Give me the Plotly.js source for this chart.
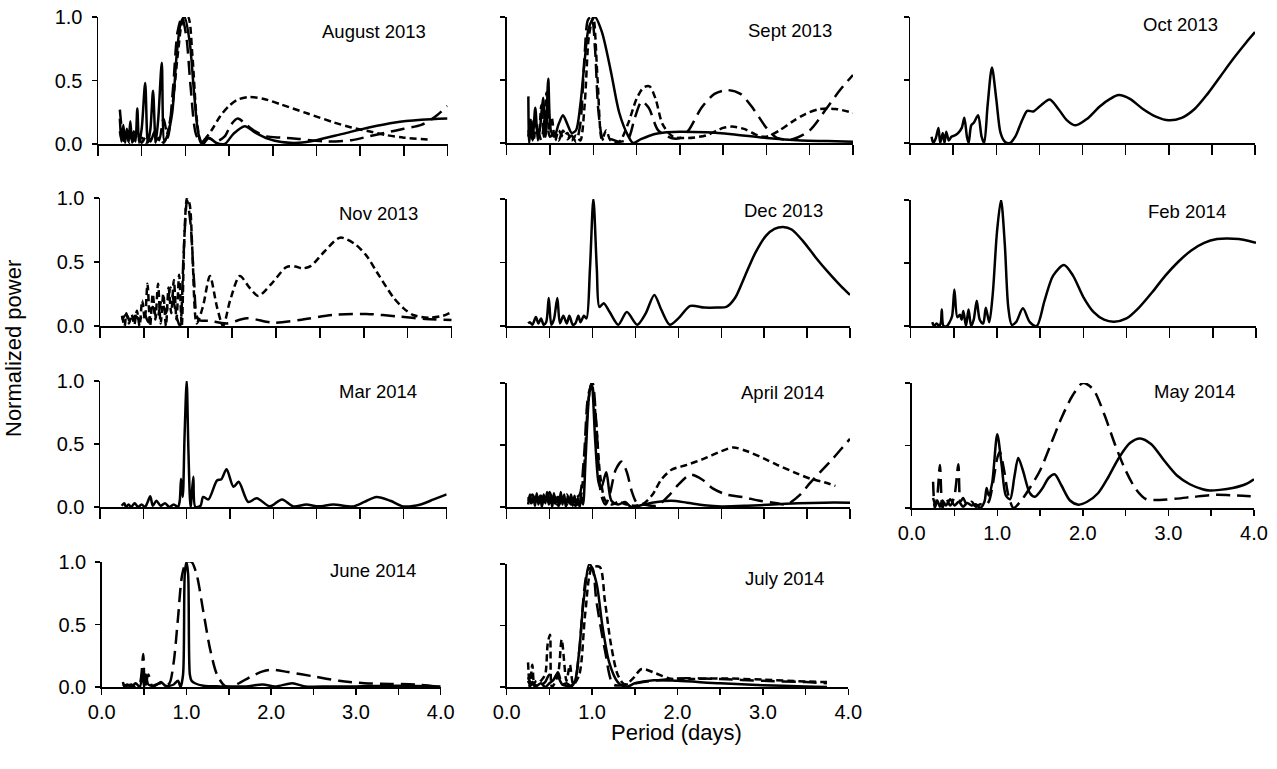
<!DOCTYPE html>
<html><head><meta charset="utf-8">
<script src="https://cdn.plot.ly/plotly-3.0.1.min.js"></script>
<style>html,body{margin:0;padding:0;background:#fff}</style>
</head><body><div id="chart" style="width:1277px;height:769px"></div>
<script>
// ---------------- DATA ----------------
const panelTitles = ['August 2013','Sept 2013','Oct 2013','Nov 2013','Dec 2013','Feb 2014','Mar 2014','April 2014','May 2014','June 2014','July 2014'];
const xTickVals = [0,0.5,1,1.5,2,2.5,3,3.5,4];
const xTickText = ['0.0','','1.0','','2.0','','3.0','','4.0'];
const yTickVals = [0,0.5,1];
const yTickText = ['0.0','0.5','1.0'];
const xTitle = 'Period (days)';
const yTitle = 'Normalized power';

// August 2013
const aug_s_x = [0.25,0.27,0.29,0.31,0.33,0.35,0.37,0.39,0.41,0.43,0.45,0.47,0.50,0.54,0.57,0.60,0.63,0.66,0.69,0.73,0.76,0.80,0.85,0.90,0.95,0.99,1.05,1.10,1.15,1.20,1.27,1.35,1.45,1.55,1.68,1.80,1.95,2.10,2.30,2.50,2.80,3.10,3.40,3.70,4.00];
const aug_s_y = [0.20,0.02,0.15,0.01,0.12,0.02,0.18,0.01,0.10,0.02,0.28,0.01,0.12,0.48,0.01,0.12,0.42,0.01,0.20,0.64,0.02,0.08,0.25,0.70,0.96,1.00,0.80,0.40,0.08,0.00,0.05,0.01,0.00,0.08,0.14,0.09,0.04,0.015,0.01,0.03,0.08,0.13,0.17,0.19,0.20];
const aug_d_x = [0.25,0.28,0.32,0.36,0.40,0.45,0.50,0.55,0.60,0.65,0.70,0.75,0.80,0.86,0.92,0.97,1.03,1.08,1.13,1.18,1.25,1.32,1.40,1.50,1.60,1.74,1.90,2.10,2.40,2.70,2.90,3.10,3.30,3.50,3.80];
const aug_d_y = [0.10,0.02,0.08,0.01,0.06,0.02,0.05,0.01,0.04,0.02,0.05,0.01,0.10,0.35,0.75,0.97,1.00,0.70,0.20,0.01,0.06,0.13,0.22,0.30,0.35,0.37,0.355,0.31,0.24,0.17,0.13,0.10,0.07,0.05,0.035];
const aug_l_x = [0.25,0.30,0.35,0.40,0.45,0.50,0.55,0.60,0.65,0.70,0.75,0.80,0.86,0.91,0.96,1.01,1.06,1.12,1.18,1.25,1.35,1.45,1.52,1.60,1.70,1.80,1.93,2.10,2.30,2.60,2.90,3.10,3.30,3.50,3.70,3.85,4.00];
const aug_l_y = [0.27,0.03,0.10,0.02,0.08,0.01,0.06,0.02,0.10,0.03,0.20,0.05,0.45,0.88,1.00,0.85,0.45,0.08,0.01,0.05,0.02,0.06,0.15,0.20,0.15,0.10,0.06,0.05,0.04,0.02,0.03,0.06,0.09,0.12,0.15,0.21,0.30];

// Sept 2013
const sep_s_x = [0.25,0.26,0.28,0.30,0.33,0.36,0.39,0.42,0.45,0.48,0.51,0.55,0.60,0.65,0.70,0.75,0.80,0.85,0.90,0.95,1.02,1.10,1.20,1.30,1.40,1.46,1.55,1.70,1.85,2.00,2.30,2.60,3.00,3.40,3.70,4.00];
const sep_s_y = [0.37,0.00,0.15,0.02,0.28,0.02,0.15,0.36,0.05,0.51,0.10,0.05,0.15,0.22,0.15,0.08,0.10,0.30,0.65,0.92,1.00,0.88,0.58,0.24,0.06,0.00,0.03,0.07,0.085,0.09,0.085,0.07,0.04,0.02,0.015,0.01];
const sep_d_x = [0.25,0.28,0.31,0.34,0.37,0.40,0.43,0.46,0.49,0.52,0.56,0.60,0.65,0.70,0.75,0.80,0.85,0.90,0.95,1.00,1.05,1.10,1.15,1.20,1.30,1.40,1.50,1.58,1.65,1.72,1.80,1.92,2.10,2.30,2.50,2.60,2.75,2.90,3.00,3.15,3.30,3.45,3.62,3.80,4.00];
const sep_d_y = [0.05,0.20,0.02,0.15,0.05,0.30,0.05,0.40,0.10,0.20,0.02,0.10,0.05,0.08,0.02,0.06,0.02,0.30,0.85,1.00,0.50,0.03,0.10,0.02,0.01,0.15,0.35,0.44,0.45,0.35,0.15,0.05,0.04,0.06,0.12,0.13,0.11,0.06,0.05,0.10,0.17,0.23,0.27,0.27,0.24];
const sep_l_x = [0.25,0.30,0.35,0.40,0.45,0.50,0.55,0.60,0.65,0.70,0.75,0.80,0.85,0.90,0.94,0.98,1.02,1.06,1.12,1.20,1.30,1.40,1.48,1.56,1.64,1.75,1.90,2.00,2.10,2.25,2.40,2.55,2.70,2.85,3.00,3.12,3.30,3.50,3.70,3.85,4.00];
const sep_l_y = [0.10,0.03,0.12,0.02,0.25,0.05,0.08,0.02,0.10,0.03,0.06,0.01,0.15,0.70,0.98,1.00,0.75,0.25,0.02,0.03,0.01,0.03,0.20,0.33,0.28,0.10,0.04,0.04,0.10,0.28,0.39,0.42,0.39,0.27,0.12,0.04,0.03,0.10,0.28,0.42,0.54];

// Oct 2013
const oct_s_x = [0.25,0.27,0.30,0.33,0.35,0.38,0.40,0.42,0.45,0.48,0.52,0.56,0.60,0.63,0.66,0.68,0.71,0.74,0.79,0.83,0.86,0.90,0.95,1.00,1.05,1.10,1.16,1.22,1.30,1.36,1.43,1.52,1.62,1.72,1.82,1.92,2.05,2.20,2.32,2.42,2.55,2.70,2.85,3.00,3.15,3.30,3.45,3.60,3.75,3.90,4.00];
const oct_s_y = [0.05,0.00,0.04,0.12,0.00,0.08,0.00,0.09,0.02,0.05,0.06,0.08,0.12,0.20,0.05,0.00,0.14,0.16,0.22,0.05,0.00,0.30,0.60,0.35,0.08,0.01,0.00,0.05,0.18,0.255,0.25,0.30,0.345,0.27,0.18,0.14,0.19,0.29,0.35,0.38,0.35,0.27,0.21,0.18,0.20,0.27,0.39,0.53,0.67,0.80,0.88];

// Nov 2013
const nov_d_x = [0.25,0.28,0.30,0.33,0.36,0.39,0.42,0.45,0.48,0.51,0.54,0.57,0.60,0.63,0.66,0.69,0.72,0.75,0.78,0.81,0.84,0.87,0.90,0.93,0.96,0.99,1.02,1.05,1.10,1.17,1.25,1.33,1.40,1.48,1.59,1.70,1.80,1.95,2.12,2.22,2.30,2.40,2.55,2.73,2.90,3.03,3.15,3.34,3.45,3.56,3.75,3.90,4.00];
const nov_d_y = [0.08,0.00,0.10,0.02,0.09,0.01,0.12,0.00,0.20,0.05,0.33,0.00,0.25,0.05,0.33,0.02,0.25,0.00,0.30,0.10,0.36,0.05,0.40,0.00,0.70,1.00,0.95,0.60,0.02,0.15,0.39,0.15,0.00,0.20,0.39,0.30,0.235,0.33,0.46,0.465,0.45,0.47,0.58,0.69,0.64,0.55,0.42,0.22,0.14,0.086,0.065,0.08,0.11];
const nov_l_x = [0.25,0.30,0.35,0.40,0.45,0.50,0.55,0.60,0.65,0.70,0.75,0.80,0.85,0.88,0.91,0.95,0.99,1.03,1.07,1.12,1.25,1.44,1.67,1.97,2.27,2.65,3.03,3.41,3.70,4.00];
const nov_l_y = [0.05,0.09,0.02,0.08,0.05,0.10,0.03,0.15,0.05,0.20,0.10,0.30,0.15,0.05,0.00,0.55,0.98,0.80,0.35,0.05,0.04,0.02,0.06,0.026,0.047,0.086,0.094,0.073,0.055,0.047];

// Dec 2013
const dec_s_x = [0.25,0.27,0.30,0.34,0.37,0.40,0.43,0.46,0.49,0.52,0.55,0.59,0.62,0.66,0.70,0.73,0.77,0.80,0.835,0.86,0.90,0.93,0.97,1.01,1.05,1.08,1.13,1.20,1.30,1.40,1.52,1.62,1.72,1.80,1.90,2.00,2.14,2.30,2.45,2.56,2.66,2.78,2.90,3.02,3.12,3.22,3.32,3.45,3.60,3.75,3.90,4.00];
const dec_s_y = [0.02,0.03,0.01,0.07,0.02,0.06,0.01,0.03,0.22,0.01,0.05,0.22,0.02,0.08,0.02,0.08,0.01,0.02,0.08,0.03,0.08,0.06,0.45,1.00,0.45,0.15,0.18,0.11,0.01,0.11,0.01,0.10,0.245,0.13,0.01,0.06,0.158,0.145,0.145,0.15,0.22,0.40,0.58,0.71,0.765,0.78,0.76,0.67,0.54,0.42,0.31,0.245];

// Feb 2014
const feb_s_x = [0.25,0.27,0.30,0.33,0.35,0.36,0.38,0.42,0.45,0.48,0.506,0.54,0.57,0.59,0.61,0.64,0.67,0.70,0.73,0.765,0.80,0.84,0.87,0.91,0.95,1.00,1.046,1.09,1.13,1.17,1.22,1.30,1.38,1.46,1.55,1.65,1.776,1.88,2.00,2.12,2.24,2.355,2.50,2.65,2.80,2.95,3.10,3.25,3.40,3.55,3.66,3.80,3.92,4.00];
const feb_s_y = [0.03,0.00,0.02,0.00,0.03,0.13,0.00,0.00,0.03,0.08,0.29,0.07,0.09,0.05,0.12,0.00,0.13,0.00,0.05,0.20,0.05,0.02,0.145,0.03,0.25,0.75,1.00,0.65,0.15,0.01,0.03,0.14,0.03,0.00,0.20,0.40,0.484,0.40,0.23,0.11,0.05,0.034,0.06,0.15,0.27,0.40,0.51,0.60,0.66,0.69,0.695,0.69,0.675,0.66];

// Mar 2014
const mar_s_x = [0.25,0.28,0.30,0.33,0.36,0.40,0.44,0.48,0.52,0.55,0.58,0.61,0.65,0.70,0.75,0.80,0.85,0.90,0.92,0.935,0.955,0.975,1.00,1.02,1.045,1.077,1.10,1.16,1.19,1.25,1.35,1.40,1.46,1.54,1.60,1.71,1.81,1.96,2.10,2.23,2.38,2.52,2.69,2.92,3.05,3.19,3.35,3.50,3.70,3.85,4.00];
const mar_s_y = [0.01,0.03,0.00,0.02,0.00,0.03,0.00,0.02,0.00,0.04,0.085,0.01,0.05,0.01,0.03,0.00,0.02,0.00,0.05,0.225,0.08,0.55,1.00,0.45,0.00,0.24,0.00,0.01,0.08,0.06,0.21,0.22,0.30,0.16,0.20,0.04,0.07,0.005,0.06,0.005,0.02,0.005,0.02,0.005,0.04,0.08,0.05,0.005,0.02,0.06,0.10];

// April 2014
const apr_s_x = [0.25,0.27,0.29,0.31,0.33,0.35,0.37,0.39,0.41,0.43,0.45,0.47,0.49,0.51,0.53,0.55,0.57,0.59,0.61,0.63,0.65,0.67,0.69,0.71,0.73,0.75,0.77,0.79,0.81,0.83,0.85,0.87,0.89,0.92,0.96,0.99,1.03,1.07,1.10,1.16,1.22,1.30,1.38,1.45,1.60,1.75,1.92,2.10,2.30,2.50,2.80,3.10,3.40,3.70,4.00];
const apr_s_y = [0.02,0.10,0.03,0.08,0.01,0.11,0.02,0.09,0.00,0.10,0.03,0.12,0.02,0.09,0.00,0.11,0.03,0.08,0.01,0.12,0.02,0.10,0.00,0.08,0.03,0.10,0.01,0.09,0.02,0.07,0.00,0.08,0.02,0.40,0.90,1.00,0.55,0.20,0.15,0.28,0.05,0.02,0.04,0.00,0.02,0.04,0.05,0.035,0.015,0.005,0.01,0.02,0.03,0.035,0.035];
const apr_d_x = [0.25,0.30,0.35,0.40,0.45,0.50,0.55,0.60,0.65,0.70,0.75,0.80,0.85,0.90,0.95,0.99,1.04,1.09,1.15,1.22,1.30,1.40,1.50,1.60,1.70,1.80,1.92,2.10,2.30,2.50,2.64,2.80,3.00,3.15,3.35,3.53,3.70,3.83];
const apr_d_y = [0.08,0.02,0.10,0.01,0.08,0.03,0.09,0.01,0.06,0.02,0.08,0.01,0.05,0.30,0.85,1.00,0.70,0.25,0.05,0.02,0.04,0.02,0.01,0.03,0.10,0.22,0.30,0.34,0.39,0.45,0.48,0.45,0.39,0.34,0.28,0.23,0.20,0.17];
const apr_l_x = [0.25,0.30,0.35,0.40,0.45,0.50,0.55,0.60,0.65,0.70,0.75,0.80,0.85,0.90,0.95,1.00,1.05,1.10,1.15,1.20,1.27,1.34,1.40,1.46,1.52,1.60,1.75,1.90,2.00,2.14,2.28,2.40,2.56,2.75,2.95,3.15,3.26,3.42,3.53,3.65,3.80,3.90,4.00];
const apr_l_y = [0.05,0.10,0.02,0.09,0.03,0.12,0.02,0.08,0.05,0.10,0.02,0.07,0.10,0.40,0.90,1.00,0.60,0.10,0.02,0.10,0.30,0.366,0.28,0.12,0.03,0.02,0.01,0.10,0.18,0.26,0.22,0.15,0.10,0.08,0.05,0.03,0.02,0.10,0.19,0.28,0.39,0.47,0.55];

// May 2014
const may_s_x = [0.25,0.28,0.30,0.33,0.36,0.40,0.45,0.50,0.55,0.60,0.65,0.70,0.75,0.80,0.85,0.875,0.90,0.94,1.00,1.05,1.10,1.15,1.20,1.245,1.30,1.38,1.44,1.52,1.60,1.67,1.75,1.85,1.95,2.05,2.18,2.30,2.42,2.55,2.67,2.80,2.95,3.10,3.25,3.40,3.48,3.60,3.75,3.90,4.00];
const may_s_y = [0.08,0.02,0.06,0.01,0.06,0.02,0.07,0.02,0.05,0.01,0.04,0.02,0.03,0.00,0.05,0.16,0.10,0.20,0.59,0.35,0.10,0.07,0.25,0.40,0.30,0.12,0.09,0.15,0.24,0.27,0.18,0.06,0.027,0.05,0.12,0.25,0.40,0.52,0.557,0.51,0.38,0.26,0.19,0.15,0.14,0.145,0.16,0.19,0.23];
const may_l_x = [0.25,0.27,0.30,0.33,0.36,0.40,0.45,0.50,0.545,0.57,0.60,0.65,0.70,0.75,0.80,0.85,0.90,0.95,1.00,1.03,1.08,1.13,1.19,1.28,1.38,1.50,1.62,1.75,1.88,2.00,2.12,2.25,2.38,2.50,2.62,2.74,2.90,3.10,3.30,3.55,3.80,4.00];
const may_l_y = [0.21,0.00,0.10,0.345,0.00,0.08,0.02,0.10,0.35,0.05,0.08,0.02,0.05,0.01,0.03,0.02,0.05,0.20,0.40,0.45,0.30,0.10,0.00,0.06,0.16,0.30,0.50,0.72,0.90,1.00,0.95,0.75,0.50,0.30,0.15,0.07,0.065,0.075,0.09,0.105,0.10,0.093];

// June 2014
const jun_s_x = [0.25,0.27,0.30,0.35,0.40,0.45,0.48,0.50,0.52,0.55,0.60,0.65,0.70,0.75,0.80,0.85,0.90,0.93,0.96,0.98,1.00,1.02,1.04,1.06,1.10,1.20,1.40,1.70,1.90,2.05,2.25,2.40,2.70,3.00,3.50,4.00];
const jun_s_y = [0.04,0.00,0.02,0.00,0.03,0.00,0.12,0.00,0.10,0.02,0.01,0.02,0.04,0.01,0.01,0.02,0.05,0.00,0.10,0.90,1.00,0.90,0.10,0.05,0.03,0.01,0.005,0.005,0.02,0.005,0.03,0.005,0.005,0.005,0.01,0.005];
const jun_l_x = [0.25,0.30,0.35,0.40,0.45,0.49,0.51,0.55,0.60,0.65,0.70,0.75,0.80,0.85,0.90,0.95,1.00,1.06,1.12,1.20,1.28,1.36,1.45,1.52,1.62,1.75,1.90,2.00,2.20,2.50,2.80,3.10,3.40,3.70,4.00];
const jun_l_y = [0.02,0.01,0.02,0.00,0.03,0.265,0.00,0.10,0.00,0.02,0.03,0.01,0.03,0.20,0.55,0.90,1.00,1.00,0.90,0.60,0.30,0.10,0.01,0.00,0.03,0.08,0.125,0.138,0.12,0.085,0.05,0.03,0.025,0.02,0.00];

// July 2014
const jul_s_x = [0.25,0.28,0.30,0.35,0.40,0.45,0.50,0.55,0.585,0.65,0.70,0.75,0.80,0.85,0.90,0.97,1.05,1.12,1.20,1.30,1.40,1.50,1.72,2.00,2.50,3.00,3.50,3.75];
const jul_s_y = [0.05,0.01,0.04,0.01,0.03,0.00,0.03,0.06,0.10,0.02,0.01,0.00,0.05,0.30,0.70,1.00,0.85,0.50,0.20,0.04,0.00,0.03,0.055,0.05,0.03,0.015,0.005,0.00];
const jul_d_x = [0.25,0.27,0.30,0.33,0.40,0.45,0.48,0.507,0.53,0.60,0.644,0.70,0.74,0.78,0.85,0.92,1.00,1.09,1.15,1.22,1.30,1.38,1.48,1.58,1.75,1.90,2.10,2.50,3.00,3.50,3.75];
const jul_d_y = [0.20,0.00,0.18,0.00,0.05,0.10,0.35,0.425,0.00,0.10,0.385,0.05,0.18,0.02,0.10,0.60,0.97,0.975,0.70,0.35,0.10,0.02,0.07,0.146,0.11,0.07,0.065,0.07,0.06,0.045,0.04];
const jul_l_x = [0.25,0.30,0.35,0.40,0.45,0.50,0.55,0.60,0.65,0.70,0.75,0.80,0.85,0.95,1.00,1.05,1.15,1.25,1.40,1.60,2.00,2.50,3.00,3.50,3.75];
const jul_l_y = [0.08,0.02,0.05,0.02,0.04,0.10,0.06,0.12,0.02,0.03,0.01,0.05,0.30,0.95,0.97,0.70,0.30,0.02,0.02,0.04,0.07,0.065,0.05,0.04,0.03];

// ---------------- LAYOUT / DRAWING ----------------
const W = 1277, H = 769;
// panel boxes in px: left(x=0), right(x=4), top(y=1), bottom(y=0)
const boxes = [
  [98, 447.5, 17, 144], [506.7, 853, 17, 143], [910, 1255, 17, 143],
  [100, 451.7, 198, 326], [506.7, 850, 199, 326], [910.7, 1256, 200, 326],
  [100, 446.7, 381, 507], [506.7, 850, 383, 507], [911.7, 1254, 383, 508],
  [101.7, 440.7, 562, 687], [506.7, 848.3, 564, 687]
];
const titlePos = [[374,32],[790,31],[1180,24],[379,213],[783,210],[1187,212],[378,391],[782,392],[1194,391],[373,570],[784,578]];
const xLabeled = [false,false,false,false,false,false,false,false,true,true,true];
const yLabeled = [true,false,false,true,false,false,true,false,false,true,false];

const SOLID = 'solid', SHORT = '7px,4px', LONG = '14px,7px';
const series = [
  [0, aug_s_x, aug_s_y, SOLID], [0, aug_d_x, aug_d_y, SHORT], [0, aug_l_x, aug_l_y, LONG],
  [1, sep_s_x, sep_s_y, SOLID], [1, sep_d_x, sep_d_y, SHORT], [1, sep_l_x, sep_l_y, LONG],
  [2, oct_s_x, oct_s_y, SOLID],
  [3, nov_d_x, nov_d_y, SHORT], [3, nov_l_x, nov_l_y, LONG],
  [4, dec_s_x, dec_s_y, SOLID],
  [5, feb_s_x, feb_s_y, SOLID],
  [6, mar_s_x, mar_s_y, SOLID],
  [7, apr_s_x, apr_s_y, SOLID], [7, apr_d_x, apr_d_y, SHORT], [7, apr_l_x, apr_l_y, LONG],
  [8, may_s_x, may_s_y, SOLID], [8, may_l_x, may_l_y, LONG],
  [9, jun_s_x, jun_s_y, SOLID], [9, jun_l_x, jun_l_y, LONG],
  [10, jul_s_x, jul_s_y, SOLID], [10, jul_d_x, jul_d_y, SHORT], [10, jul_l_x, jul_l_y, LONG]
];

const FONT = 'Liberation Sans, Arial, sans-serif';
const traces = series.map(([p, x, y, dash]) => ({
  type: 'scatter', mode: 'lines', x: x, y: y,
  xaxis: p === 0 ? 'x' : 'x' + (p + 1), yaxis: p === 0 ? 'y' : 'y' + (p + 1),
  line: { color: '#000', width: 2.5, dash: dash, shape: 'spline', smoothing: 0.8 },
  hoverinfo: 'skip', showlegend: false
}));

const layout = {
  width: W, height: H, margin: { l: 0, r: 0, t: 0, b: 0 },
  paper_bgcolor: '#fff', plot_bgcolor: 'rgba(0,0,0,0)', showlegend: false,
  font: { family: FONT, color: '#000', size: 20 },
  annotations: []
};
boxes.forEach((b, i) => {
  const n = i === 0 ? '' : String(i + 1);
  layout['xaxis' + n] = {
    domain: [b[0] / W, b[1] / W], range: [0, 4], anchor: 'y' + n,
    showline: true, linecolor: '#000', linewidth: 1.5, mirror: false,
    ticks: 'outside', ticklen: xLabeled[i] ? 6 : 10, tickwidth: 1.5, tickcolor: '#000',
    tickmode: 'array', tickvals: xTickVals, ticktext: xTickText,
    showticklabels: xLabeled[i], tickfont: { family: FONT, size: 20, color: '#000' },
    showgrid: false, zeroline: false, fixedrange: true
  };
  layout['yaxis' + n] = {
    domain: [1 - b[3] / H, 1 - b[2] / H], range: [0, 1], anchor: 'x' + n,
    showline: true, linecolor: '#000', linewidth: 1.5,
    ticks: 'outside', ticklen: 5, tickwidth: 1.5, tickcolor: '#000',
    tickmode: 'array', tickvals: yTickVals, ticktext: yTickText, ticklabelstandoff: 5,
    showticklabels: yLabeled[i], tickfont: { family: FONT, size: 20, color: '#000' },
    showgrid: false, zeroline: false, fixedrange: true
  };
  layout.annotations.push({
    xref: 'paper', yref: 'paper', x: titlePos[i][0] / W, y: 1 - titlePos[i][1] / H,
    xanchor: 'center', yanchor: 'middle', showarrow: false,
    text: panelTitles[i], font: { family: FONT, size: 18.5, color: '#000' }
  });
});
layout.annotations.push({
  xref: 'paper', yref: 'paper', x: 14 / W, y: 1 - 349 / H, xanchor: 'center', yanchor: 'middle',
  showarrow: false, textangle: -90, text: yTitle, font: { family: FONT, size: 22, color: '#000' }
});
layout.annotations.push({
  xref: 'paper', yref: 'paper', x: 677 / W, y: 1 - 732 / H, xanchor: 'center', yanchor: 'middle',
  showarrow: false, text: xTitle, font: { family: FONT, size: 22, color: '#000' }
});

Plotly.newPlot('chart', traces, layout, { displayModeBar: false, staticPlot: true });
</script>
</body></html>
